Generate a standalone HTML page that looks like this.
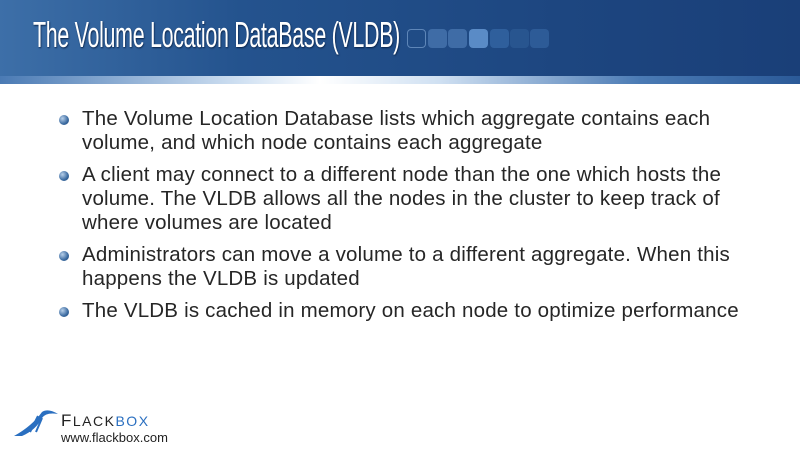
<!DOCTYPE html>
<html><head><style>
body{margin:0;width:800px;height:450px;overflow:hidden;background:#fff;font-family:"Liberation Sans",sans-serif;position:relative}
.hdr{position:absolute;left:0;top:0;width:800px;height:80px;background:linear-gradient(90deg,#3d6fa8 0%,#24538e 30%,#1d4680 70%,#1a3f78 100%)}
.strip{position:absolute;left:0;top:76px;width:800px;height:8px;background:linear-gradient(90deg,#4a7ab4 0%,#cfe0f2 30%,#ffffff 40%,#cfe0f2 55%,#4a7ab4 80%,#2b5a98 100%)}
.title{position:absolute;left:33px;top:14px;color:#fff;font-size:36px;letter-spacing:-0.5px;text-shadow:1px 1px 2px #0a2348;white-space:nowrap;transform:scaleX(0.595);transform-origin:0 0}
.sq{position:absolute;top:29px;width:19px;height:19px;border-radius:4px}
ul{position:absolute;left:56px;top:107px;margin:0;padding:0;list-style:none;width:740px}
li{position:relative;padding-left:26px;font-size:20.5px;line-height:24px;color:#262626;margin-bottom:8px;white-space:nowrap;letter-spacing:0.2px}
li:before{content:"";position:absolute;left:3px;top:8px;width:10px;height:10px;border-radius:50%;background:radial-gradient(circle at 35% 35%,#b8d0ea,#3a6aa0 60%,#1f4678)}
.logo1{position:absolute;left:61px;top:411px;font-size:17px;letter-spacing:1.5px;color:#222}
.logo2{position:absolute;left:61px;top:430px;font-size:13px;color:#222}
</style></head><body>
<div class="hdr"></div><div class="strip"></div>
<div class="title">The Volume Location DataBase (VLDB)</div>
<div class="sq" style="left:407px;border:1px solid #5e86b8;width:17px;height:17px"></div>
<div class="sq" style="left:428px;background:#3f6ca6"></div>
<div class="sq" style="left:448px;background:#3f6ca6"></div>
<div class="sq" style="left:469px;background:#5a8bc6"></div>
<div class="sq" style="left:490px;background:#2f5f9c"></div>
<div class="sq" style="left:510px;background:#28558f"></div>
<div class="sq" style="left:530px;background:#2d5b97"></div>
<ul>
<li>The Volume Location Database lists which aggregate contains each<br>volume, and which node contains each aggregate</li>
<li>A client may connect to a different node than the one which hosts the<br>volume. The VLDB allows all the nodes in the cluster to keep track of<br>where volumes are located</li>
<li>Administrators can move a volume to a different aggregate. When this<br>happens the VLDB is updated</li>
<li>The VLDB is cached in memory on each node to optimize performance</li>
</ul>
<svg style="position:absolute;left:12px;top:408px" width="50" height="30" viewBox="0 0 50 30">
<path d="M2 28 Q20 18 30 4 Q36 0 46 6 Q34 4 30 10 Q24 22 10 28Z" fill="#2a6fc0"/>
<path d="M18 24 L26 8 M24 24 L30 10" stroke="#2a6fc0" stroke-width="2"/>
</svg>
<div class="logo1">F<span style="font-size:14px">LACK</span><span style="color:#2a6fc0;font-size:14px">BOX</span></div>
<div class="logo2">www.flackbox.com</div>
</body></html>
